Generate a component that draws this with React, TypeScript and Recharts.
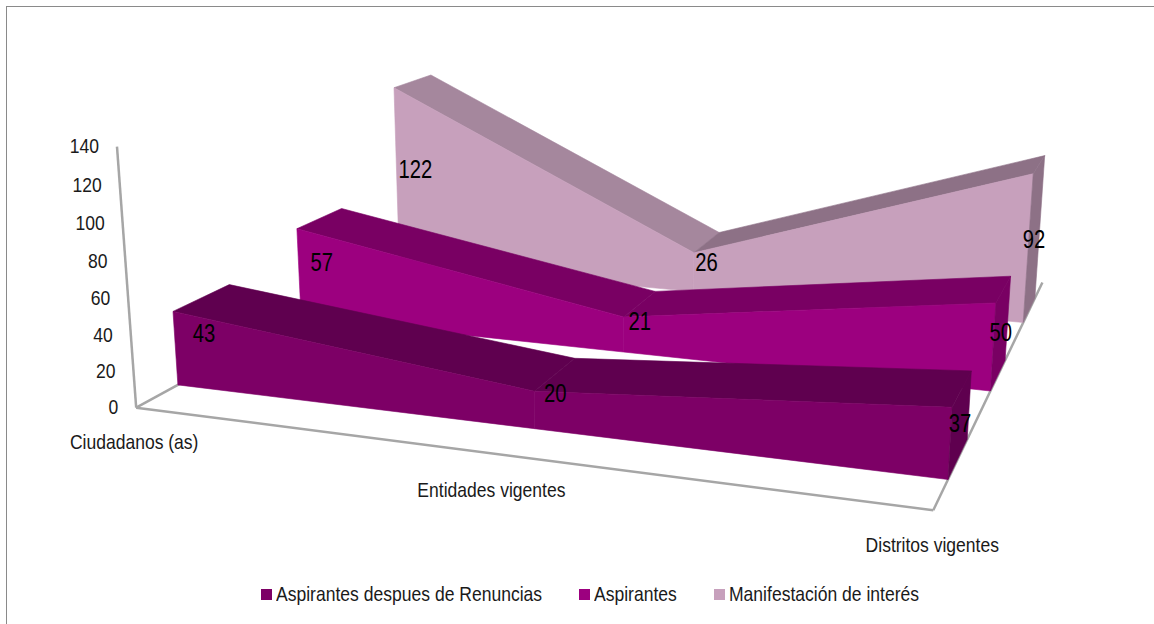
import React from "react";
import { LineChart, Line, XAxis, YAxis, Legend, LabelList } from "recharts";

const categories = ["Ciudadanos (as)", "Entidades vigentes", "Distritos vigentes"];
const renuncias = [43, 20, 37];
const aspirantes = [57, 21, 50];
const manifestacion = [122, 26, 92];
const yTicks = [0, 20, 40, 60, 80, 100, 120, 140];

const NAME_RENUNCIAS = "Aspirantes despues de Renuncias";
const NAME_ASPIRANTES = "Aspirantes";
const NAME_MANIFESTACION = "Manifestación de interés";

const rows = categories.map((c, i) => ({ c, renuncias: renuncias[i], aspirantes: aspirantes[i], manifestacion: manifestacion[i] }));

const W = 1154;
const H = 624;
const FONT = '"Liberation Sans", Arial, sans-serif';

// Depth of each ribbon on the chart floor (0 front .. 1 back)
const dA = [0.0967, 0.237];
const dB = [0.43, 0.57];
const dC = [0.763, 0.903];

// 3D camera of the chart: (category position, depth, value/100) -> page
const CAM = [
  0.664987, 0.501228, -0.017047, 0.136178,
  0.030329, -0.085035, -0.190685, 0.407658,
  -0.141557, 0.390987, -0.028561,
];

function project(t: number, d: number, v: number): [number, number] {
  const z = v / 100;
  const w = CAM[8] * t + CAM[9] * d + CAM[10] * z + 1;
  return [
    (1000 * (CAM[0] * t + CAM[1] * d + CAM[2] * z + CAM[3])) / w,
    (1000 * (CAM[4] * t + CAM[5] * d + CAM[6] * z + CAM[7])) / w,
  ];
}

const poly = (pts: [number, number][]) => pts.map((p) => p.map((n) => n.toFixed(1)).join(",")).join(" ");
const toT = (x: number) => (x - 1) / (W - 1);
const toV = (y: number) => ((H - 1 - y) / (H - 1)) * 140;

type Look = { front: string; top: string; top2: string; side: string; d0: number; d1: number; sagEnd: number; sagMid: number; floor?: boolean };
const looks: Record<string, Look> = {
  renuncias: { front: "#7d0066", top: "#5f004f", top2: "#5f004f", side: "#5f004f", d0: dA[0], d1: dA[1], sagEnd: 4.5, sagMid: 4 },
  aspirantes: { front: "#9c007f", top: "#790063", top2: "#790063", side: "#790063", d0: dB[0], d1: dB[1], sagEnd: 3.5, sagMid: 4 },
  manifestacion: { front: "#c7a0bc", top: "#a5879d", top2: "#8d7186", side: "#8d7186", d0: dC[0], d1: dC[1], sagEnd: 1, sagMid: 4, floor: true },
};

const AXIS = "#a6a6a6";

function Edge({ a, b }: { a: [number, number]; b: [number, number] }) {
  return <line x1={a[0]} y1={a[1]} x2={b[0]} y2={b[1]} stroke={AXIS} strokeWidth={2.5} />;
}

function Face({ fill, pts }: { fill: string; pts: [number, number][] }) {
  return <polygon fill={fill} stroke={fill} strokeWidth={0.6} points={poly(pts)} />;
}

function ribbon(look: Look) {
  const top = (t: number, d: number, v: number) =>
    project(t, d, v - (look.sagEnd + (look.sagMid - look.sagEnd) * 4 * t * (1 - t)));
  return (props: any) => {
    const { cx, cy, index, points } = props;
    const t = toT(cx);
    const v = toV(cy);
    const k = `seg-${look.front}-${index}`;
    const next = points && points[index + 1];
    if (!next) {
      return (
        <g key={k}>
          <Face fill={look.side} pts={[top(t, look.d0, v), top(t, look.d1, v), project(t, look.d1, 0), project(t, look.d0, 0)]} />
        </g>
      );
    }
    const t2 = toT(next.x);
    const v2 = toV(next.y);
    return (
      <g key={k}>
        {look.floor && index === 0 && (
          <g>
            <Edge a={project(0, 0, 0)} b={project(1, 0, 0)} />
            <Edge a={project(1, 0, 0)} b={project(1, 1, 0)} />
            <Edge a={project(0, 0, 0)} b={project(0, 0.4, 0)} />
            <Edge a={project(0, 0, 0)} b={project(0, 0, 140)} />
          </g>
        )}
        <Face fill={index === 0 ? look.top : look.top2} pts={[top(t, look.d0, v), top(t, look.d1, v), top(t2, look.d1, v2), top(t2, look.d0, v2)]} />
        <Face fill={look.front} pts={[top(t, look.d0, v), top(t2, look.d0, v2), project(t2, look.d0, 0), project(t, look.d0, 0)]} />
      </g>
    );
  };
}

function Narrow({ x, y, size, anchor, scale, fill, children }: any) {
  return (
    <text transform={`translate(${x},${y}) scale(${scale},1)`} dy="0.36em" textAnchor={anchor} fontFamily={FONT} fontSize={size} fill={fill}>
      {children}
    </text>
  );
}

function dataLabel(look: Look) {
  return (props: any) => {
    const x = props.x ?? props.viewBox?.x;
    const [px, py] = project(toT(x), (look.d0 + look.d1) / 2, Number(props.value) / 2);
    return (
      <Narrow x={px} y={py} size={25} scale={0.81} anchor="middle" fill="#000">
        {props.value}
      </Narrow>
    );
  };
}

const xLabelOffset = [-2, -13, -1];

function XTick(props: any) {
  const { x, index, payload } = props;
  const [px, py] = project(toT(x), 0, 0);
  return (
    <Narrow x={px + xLabelOffset[index]} y={py + 34} size={21} scale={0.835} anchor="middle" fill="#1a1a1a">
      {payload.value}
    </Narrow>
  );
}

function YTick(props: any) {
  const { payload } = props;
  const [px, py] = project(0, 0, payload.value);
  return (
    <Narrow x={px - 18} y={py - 1} size={21} scale={0.835} anchor="end" fill="#1a1a1a">
      {payload.value}
    </Narrow>
  );
}

const legendOrder = ["renuncias", "aspirantes", "manifestacion"];
const legendWidth = [266, 83, 189];
const legendGap = [37, 37, 0];

function LegendBox({ payload }: any) {
  const items = legendOrder.map((k) => (payload || []).find((p: any) => p.dataKey === k)).filter(Boolean);
  return (
    <div style={{ display: "flex", alignItems: "center", fontFamily: FONT, fontSize: 21, color: "#1a1a1a", lineHeight: "22px" }}>
      {items.map((it: any, i: number) => (
        <div key={it.dataKey} style={{ display: "flex", alignItems: "center", marginRight: legendGap[i] }}>
          <span style={{ width: 11, height: 11, marginRight: 4, background: looks[it.dataKey].front, display: "inline-block" }} />
          <span style={{ display: "inline-block", width: legendWidth[i], whiteSpace: "nowrap", transform: "scale(0.835,1)", transformOrigin: "left center" }}>{it.value}</span>
        </div>
      ))}
    </div>
  );
}

export default function App() {
  return (
    <div style={{ position: "absolute", left: 0, top: 0, width: W, height: H, overflow: "hidden", background: "#fff" }}>
      <div style={{ position: "absolute", left: 6, top: 6, width: W, height: H, borderLeft: "1.5px solid #8a8a8a", borderTop: "1.5px solid #8a8a8a" }} />
      <div style={{ position: "absolute", left: 0, top: 0 }}>
        <LineChart width={W} height={H} data={rows} margin={{ top: 0, right: 0, bottom: 0, left: 0 }}>
          <XAxis dataKey="c" height={1} interval={0} axisLine={false} tickLine={false} tick={XTick} />
          <YAxis width={1} domain={[0, 140]} ticks={yTicks} interval={0} axisLine={false} tickLine={false} tick={YTick} />
          <Legend content={LegendBox} wrapperStyle={{ position: "absolute", left: 261, top: 583, width: "auto" }} />
          <Line dataKey="manifestacion" name={NAME_MANIFESTACION} stroke="none" isAnimationActive={false} activeDot={false} dot={ribbon(looks.manifestacion)}>
            <LabelList dataKey="manifestacion" content={dataLabel(looks.manifestacion)} />
          </Line>
          <Line dataKey="aspirantes" name={NAME_ASPIRANTES} stroke="none" isAnimationActive={false} activeDot={false} dot={ribbon(looks.aspirantes)}>
            <LabelList dataKey="aspirantes" content={dataLabel(looks.aspirantes)} />
          </Line>
          <Line dataKey="renuncias" name={NAME_RENUNCIAS} stroke="none" isAnimationActive={false} activeDot={false} dot={ribbon(looks.renuncias)}>
            <LabelList dataKey="renuncias" content={dataLabel(looks.renuncias)} />
          </Line>
        </LineChart>
      </div>
    </div>
  );
}
